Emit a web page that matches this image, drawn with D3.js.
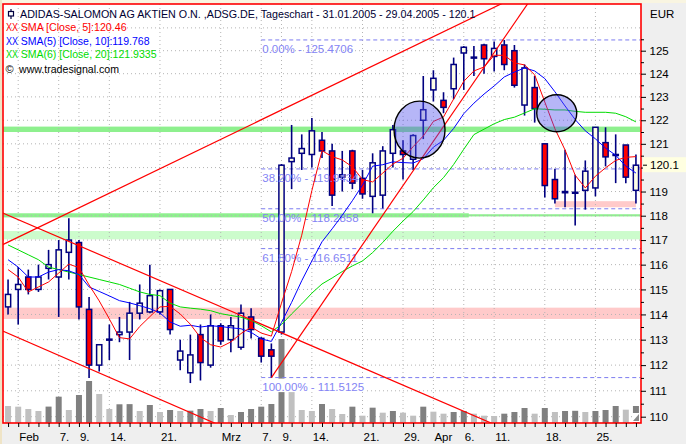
<!DOCTYPE html>
<html><head><meta charset="utf-8">
<script src="https://cdn.jsdelivr.net/npm/d3@7"></script>
<style>
body{margin:0;background:#efefef;}
svg{display:block;font-family:"Liberation Sans",Arial,sans-serif;}
</style>
</head><body>
<svg id="c" width="686" height="444"></svg>
<script>
// ---------- DATA ----------
const dates = ["2005-01-31","2005-02-01","2005-02-02","2005-02-03","2005-02-04","2005-02-07","2005-02-08","2005-02-09","2005-02-10","2005-02-11","2005-02-14","2005-02-15","2005-02-16","2005-02-17","2005-02-18","2005-02-21","2005-02-22","2005-02-23","2005-02-24","2005-02-25","2005-02-28","2005-03-01","2005-03-02","2005-03-03","2005-03-04","2005-03-07","2005-03-08","2005-03-09","2005-03-10","2005-03-11","2005-03-14","2005-03-15","2005-03-16","2005-03-17","2005-03-18","2005-03-21","2005-03-22","2005-03-23","2005-03-24","2005-03-29","2005-03-30","2005-03-31","2005-04-01","2005-04-04","2005-04-05","2005-04-06","2005-04-07","2005-04-08","2005-04-11","2005-04-12","2005-04-13","2005-04-14","2005-04-15","2005-04-18","2005-04-19","2005-04-20","2005-04-21","2005-04-22","2005-04-25","2005-04-26","2005-04-27","2005-04-28","2005-04-29"];
const open = [114.3,115.0,115.5,115.0,115.85,115.5,116.5,116.9,114.2,112.0, 113.0,113.2,113.3,114.05,114.1,114.1,115.0,112.2,111.7,113.2, 112.0,113.55,113.0,112.7,113.9,113.05,112.6,113.3,120.25,120.6, 120.55,121.15,120.7,119.6,120.7,119.55,118.8,118.85,120.6,120.7, 120.35,122.0,123.3,122.85,123.35,124.9,124.7,125.25,124.75,125.25, 125.0,122.65,123.4,121.0,119.5,118.95,118.95,119.05,119.15,121.05, 120.55,120.95,119.05];
const high = [115.4,115.9,115.8,116.0,116.6,117.0,117.9,117.0,114.7,112.8, 113.6,113.9,114.5,115.2,116.0,115.0,115.0,113.0,113.2,113.6, 114.0,113.65,113.9,114.4,114.25,113.1,112.85,120.15,121.8,121.4, 122.1,121.5,121.0,120.7,120.75,119.9,120.6,120.9,121.8,121.15, 121.4,123.9,124.15,123.2,124.7,125.2,125.2,125.3,125.4,125.4706, 125.25,124.4,123.9,121.0,119.95,120.75,119.7,120.3,121.7,121.7, 121.4,120.95,120.55];
const low = [114.0,113.6,114.8,114.9,115.4,113.9,115.4,113.8,111.5,111.75, 112.2,112.9,112.2,113.8,114.05,114.0,113.2,111.8,111.3,111.4, 111.9,112.8,112.5,112.6,113.05,112.1,111.5125,113.2,119.1,119.9, 120.0,120.4,118.4,119.0,119.1,118.7,118.1,118.3,120.0,119.5, 119.9,121.2,122.8,122.3,122.9,123.3,123.9,124.0,124.1,124.15, 123.4,122.2,121.9,118.75,118.5,118.35,117.6,118.25,118.8,120.05, 119.35,119.35,118.5];
const close = [114.8,115.2,115.0,115.5,116.0,116.6,117.0,114.3,112.0,112.8, 113.02,113.3,114.05,114.45,114.75,114.95,113.4,112.55,112.4,112.1, 113.55,112.95,113.55,114.05,113.4,112.35,112.35,120.1,120.4,120.8, 121.55,120.7,118.85,119.7,119.35,118.9,120.2,120.7,121.6,120.55, 121.35,122.45,123.8,122.55,124.4,125.15,124.72,124.65,125.1,124.4, 123.5,124.25,122.5,119.25,118.7,119.0,118.97,119.85,121.7,120.45, 120.55,119.6,120.1];
const volume = [425,408,350,300,410,658,325,700,1050,725, 350,468,472,300,450,275,325,300,308,350, 300,375,200,275,350,408,475,2100,775,325, 300,475,350,225,408,183,383,258,300,258, 183,408,283,233,275,300,233,183,175,233, 275,375,233,375,275,300,305,275,300,325, 425,333,425];
const sma5 = [115.8,115.5,114.9,115.1,115.3,115.66,116.02,115.88,115.18,114.54, 113.82,113.08,113.03,113.52,113.91,114.3,114.32,114.02,113.61,113.08, 112.8,112.71,112.91,113.24,113.5,113.26,113.14,114.45,115.72,117.2, 119.04,120.71,120.46,120.32,120.03,119.5,119.4,119.77,120.15,120.39, 120.88,121.33,121.95,122.14,122.91,123.67,124.12,124.29,124.8,124.8, 124.47,124.38,123.95,122.78,121.64,120.74,119.68,119.15,119.64,119.99, 120.3,120.43,120.46];
const sma10 = [116.2,115.9,115.5,115.5,115.7,115.8,115.75,115.6,115.1,114.92, 114.74,114.55,114.46,114.35,114.23,114.06,113.7,113.53,113.57,113.5, 113.55,113.52,113.47,113.43,113.29,113.03,112.93,113.68,114.48,115.35, 116.15,116.93,117.46,118.02,118.62,119.27,120.06,120.12,120.24,120.21, 120.19,120.37,120.86,121.15,121.65,122.28,122.73,123.12,123.47,123.86, 124.07,124.25,124.12,123.79,123.22,122.61,122.03,121.55,121.21,120.82, 120.52,120.06,119.77];
const sma20 = [116.8,116.6,116.4,116.2,115.9,115.8,115.7,115.6,115.5,115.4, 115.3,115.2,115.05,114.9,114.8,114.75,114.45,114.3,114.25,114.21, 114.15,114.03,113.96,113.89,113.76,113.55,113.31,113.6,114.02,114.42, 114.85,115.22,115.46,115.72,115.95,116.15,116.49,116.9,117.36,117.78, 118.17,118.65,119.16,119.58,120.13,120.77,121.39,121.62,121.85,122.03, 122.13,122.31,122.49,122.47,122.44,122.44,122.38,122.34,122.34,122.34, 122.3,122.15,121.93];
const tickDates = ["2005-02-01","2005-02-07","2005-02-09","2005-02-14","2005-02-21","2005-03-01","2005-03-07","2005-03-09","2005-03-14","2005-03-21","2005-03-29","2005-04-01","2005-04-06","2005-04-11","2005-04-18","2005-04-25"];
const tickLabels = ["Feb","7.","9.","14.","21.","Mrz","7.","9.","14.","21.","29.","Apr","6.","11.","18.","25."];
const priceTicks = [110,111,112,113,114,115,116,117,118,119,120,121,122,123,124,125];
const fibValues = [125.4706,119.9434,118.2858,116.6511,111.5125];
const fibLabels = ["0.00% - 125.4706","38.20% - 119.9434","50.00% - 118.2858","61.80% - 116.6511","100.00% - 111.5125"];
const fibStart = "2005-03-07";
const title = "ADIDAS-SALOMON AG AKTIEN O.N. ,ADSG.DE, Tageschart - 31.01.2005 - 29.04.2005 - 120.1";
const legendTexts = ["SMA [Close, 5]:120.46","SMA(5) [Close, 10]:119.768","SMA(6) [Close, 20]:121.9335"];
const lastPrice = 120.1;
// horizontal zones [low, high, fromDate|null, toDate|null]
const zoneLows  = [121.5, 117.93, 117.97, 117.03, 113.82, 118.35];
const zoneHighs = [121.73, 118.1, 118.06, 117.37, 114.27, 118.6];
const zoneFrom  = [null, null, "2005-04-06", null, null, "2005-04-19"];
const zoneTo    = [null, "2005-04-06", null, null, null, "2005-04-29"];
// trend lines: anchor dates / prices
const trendFromDate = ["2005-01-31","2005-01-31","2005-01-31","2005-03-08"];
const trendFromPrice = [116.92, 118.02, 113.25, 111.5125];
const trendToDate = ["2005-04-11","2005-03-30","2005-02-28","2005-04-13"];
const trendToPrice = [126.91, 111.05, 109.82, 126.21];
const trendRay = [false,false,false,true];
// highlight circles: centre date index / price
const circleIdx = [40.63, 54.18];
const circlePrice = [121.6, 122.3];

// ---------- LAYOUT ----------
const L=3, R=641, T=4, B=423;
const svg = d3.select("#c");
const n = dates.length;
const xi = d3.scaleLinear().domain([-0.5, n-0.5]).range([L, R]);
const xDate = d3.scalePoint().domain(dates).range([xi(0), xi(n-1)]);
const y = d3.scaleLog().domain([110,125]).range([416.7,50.7]);
const yv = d3.scaleLinear().domain([0,2100]).range([B, 339]);

// backgrounds
svg.append("rect").attr("x",0).attr("y",0).attr("width",686).attr("height",444).attr("fill","#efefef");
svg.append("rect").attr("x",0).attr("y",0).attr("width",686).attr("height",3).attr("fill","#f9f5e1");
svg.append("rect").attr("x",0).attr("y",0).attr("width",2).attr("height",444).attr("fill","#efe4c6");
svg.append("rect").attr("x",L).attr("y",T).attr("width",R-L).attr("height",B-T).attr("fill","#fff");

svg.append("clipPath").attr("id","pc").append("rect").attr("x",L).attr("y",T).attr("width",R-L).attr("height",B-T);
const g = svg.append("g").attr("clip-path","url(#pc)");

// zones
zoneLows.forEach((lo,k)=>{
  const x0 = zoneFrom[k] ? xDate(zoneFrom[k]) : L;
  const x1 = zoneTo[k] ? xDate(zoneTo[k]) + (k===1?5:0) : R;
  const col = k<3 ? "#8ef08e" : (k===3 ? "#ccfccc" : "#ffcaca");
  g.append("rect").attr("x",x0).attr("width",x1-x0)
   .attr("y",y(zoneHighs[k])).attr("height",y(lo)-y(zoneHighs[k])).attr("fill",col);
});

// grid
const gridCol = "#b4b4b4";
g.selectAll(".hg").data(d3.range(110,127)).join("line")
  .attr("x1",L).attr("x2",R).attr("y1",d=>y(d)).attr("y2",d=>y(d))
  .attr("stroke",gridCol).attr("stroke-dasharray","1,3");
g.selectAll(".vg").data(tickDates).join("line")
  .attr("x1",d=>xDate(d)).attr("x2",d=>xDate(d)).attr("y1",T).attr("y2",B)
  .attr("stroke",gridCol).attr("stroke-dasharray","1,3");

// volume
g.selectAll(".vol").data(volume).join("rect")
  .attr("x",(d,i)=>xi(i)-3).attr("width",6)
  .attr("y",d=>yv(d)).attr("height",d=>B-yv(d))
  .attr("fill",(d,i)=> i>0 && d>volume[i-1] ? "#808080" : "#c0c0c0");

// fib lines
const fx0 = xDate(fibStart);
g.selectAll(".fib").data(fibValues).join("line")
  .attr("x1",fx0).attr("x2",R).attr("y1",d=>y(d)).attr("y2",d=>y(d))
  .attr("stroke","#7c7cf0").attr("stroke-width",1).attr("stroke-dasharray","4,3");

// candles
const cg = g.append("g");
dates.forEach((d,i)=>{
  const x = xi(i);
  cg.append("line").attr("x1",x).attr("x2",x).attr("y1",y(high[i])).attr("y2",y(low[i]))
    .attr("stroke","#000080").attr("stroke-width",1.6);
  const up = close[i] >= open[i];
  const yt = y(Math.max(open[i],close[i])), yb = y(Math.min(open[i],close[i]));
  cg.append("rect").attr("x",x-2.6).attr("width",5.2).attr("y",yt).attr("height",Math.max(1,yb-yt))
    .attr("fill", up ? "#ffffe6" : "#ff0000").attr("stroke","#000080").attr("stroke-width",1.5);
});

// fib labels
fibLabels.forEach((t,k)=>{
  const ty = y(fibValues[k]) + 13;
  const tx = g.append("text").attr("x",fx0+1).attr("y",ty).attr("font-size",11.5)
    .attr("fill","#8484f4").text(t);
  if (k===4) {
    const w = tx.node().getComputedTextLength();
    g.insert("rect", "text").attr("x",fx0).attr("y",y(fibValues[k])+1).attr("width",w+3).attr("height",13.5).attr("fill","#fff");
  }
});

// SMA lines
const line = d3.line().x((d,i)=>xi(i)).y(d=>y(d));
[[sma20,"#00dc00"],[sma10,"#0000ff"],[sma5,"#ff0000"]].forEach(([s,c])=>{
  g.append("path").attr("d",line(s)).attr("fill","none").attr("stroke",c).attr("stroke-width",1);
});

// trend lines
trendFromDate.forEach((d,k)=>{
  const x1 = xDate(d), y1 = y(trendFromPrice[k]);
  const x2 = xDate(trendToDate[k]), y2 = y(trendToPrice[k]);
  const m = (y2-y1)/(x2-x1);
  const xa = trendRay[k] ? x1 : L-5, xb = R+5;
  g.append("line").attr("x1",xa).attr("y1",y1+m*(xa-x1)).attr("x2",xb).attr("y2",y1+m*(xb-x1))
   .attr("stroke","#ff0000").attr("stroke-width",1.2);
});

// circles
const rx = [25.5,20], ry = [28.5,18.5];
circleIdx.forEach((c,k)=>{
  g.append("ellipse").attr("cx",xi(c)).attr("cy",y(circlePrice[k])).attr("rx",rx[k]).attr("ry",ry[k])
   .attr("fill","rgba(80,80,235,0.42)").attr("stroke","#000").attr("stroke-width",1.4);
});

// corner icon
svg.append("rect").attr("x",632).attr("y",413).attr("width",8).attr("height",9).attr("fill","#fff");
svg.append("path").attr("d","M633,421 L639,414 L639,421 Z").attr("fill","#8a8a8a");

// border
svg.append("rect").attr("x",L).attr("y",T).attr("width",R-L).attr("height",B-T)
  .attr("fill","none").attr("stroke","#ff0000").attr("stroke-width",1.6);

// right axis (the 120 label is replaced by the last-price box)
const ra = svg.append("g").attr("transform",`translate(${R},0)`)
  .call(d3.axisRight(y).tickValues(priceTicks).tickSize(5).tickFormat(d => d===120 ? "" : d3.format("d")(d)));
ra.select(".domain").remove();
ra.selectAll("text").attr("font-size",11.5).attr("font-family","Liberation Sans, Arial").attr("fill","#000").attr("x",8.5);
const ma = svg.append("g").attr("transform",`translate(${R},0)`)
  .call(d3.axisRight(y).tickValues(d3.range(110.5,126.1,1)).tickSize(3).tickFormat(""));
ma.select(".domain").remove();
svg.append("text").attr("x",650).attr("y",18).attr("font-size",11.5).text("EUR");
// last price box
svg.append("rect").attr("x",643).attr("y",y(lastPrice)-8).attr("width",43).attr("height",15).attr("fill","#ffffe1");
svg.append("line").attr("x1",643).attr("x2",647).attr("y1",y(lastPrice)).attr("y2",y(lastPrice)).attr("stroke","#000");
svg.append("text").attr("x",650).attr("y",y(lastPrice)+4).attr("font-size",11.5).text(d3.format(".1f")(lastPrice));

// bottom axis
const labelOf = {}; tickDates.forEach((d,k)=>labelOf[d]=tickLabels[k]);
const ba = svg.append("g").attr("transform",`translate(0,${B})`)
  .call(d3.axisBottom(xDate).tickValues(dates).tickSize(4).tickFormat(d=>labelOf[d]||""));
ba.select(".domain").remove();
ba.selectAll("text").attr("text-anchor","start").attr("x",0.5).attr("y",18).attr("dy",0)
  .attr("font-size",11.5).attr("font-family","Liberation Sans, Arial").attr("fill","#000");

// title & legend
function fit(t, w){ const m = t.node().getComputedTextLength(); t.attr("font-size", (+t.attr("font-size"))*w/m); }
svg.append("line").attr("x1",11).attr("x2",11).attr("y1",9).attr("y2",19).attr("stroke","#000040").attr("stroke-width",1.2);
svg.append("rect").attr("x",8.5).attr("y",11.5).attr("width",5).attr("height",4.5).attr("fill","#fff").attr("stroke","#000040").attr("stroke-width",1.2);
fit(svg.append("text").attr("x",20).attr("y",18.3).attr("font-size",11).attr("fill","#000033").text(title), 456);
const legCols = ["#ff0000","#0000ff","#00dc00"];
const legY = [30.8, 44.8, 58.2];
const legW = [106,129,136];
legendTexts.forEach((t,k)=>{
  const xx = svg.append("text").attr("x",6).attr("y",legY[k]).attr("font-size",10).attr("fill",legCols[k]).text("XX");
  xx.attr("textLength",12).attr("lengthAdjust","spacingAndGlyphs");
  fit(svg.append("text").attr("x",20.7).attr("y",legY[k]).attr("font-size",11).attr("fill",legCols[k]).text(t), legW[k]);
});
svg.append("text").attr("x",5.5).attr("y",73).attr("font-size",11).text("©");
fit(svg.append("text").attr("x",19).attr("y",73).attr("font-size",11).text("www.tradesignal.com"),100);
</script>
</body></html>
